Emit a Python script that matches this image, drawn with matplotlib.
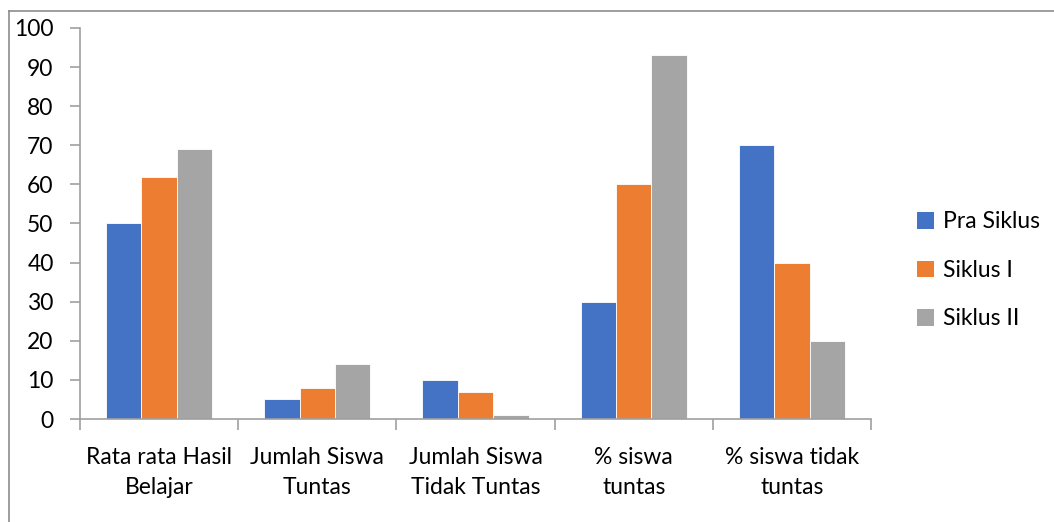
import matplotlib.pyplot as plt
import numpy as np
from matplotlib.patches import Patch

# categories and the three cycles
categories = ["Rata rata Hasil\nBelajar", "Jumlah Siswa\nTuntas",
              "Jumlah Siswa\nTidak Tuntas", "% siswa\ntuntas",
              "% siswa tidak\ntuntas"]
series_names = ["Pra Siklus", "Siklus I", "Siklus II"]
pra_siklus = [50, 5, 10, 30, 70]
siklus_1 = [62, 8, 7, 60, 40]
siklus_2 = [69, 14, 1, 93, 20]
colors = ["#4472C4", "#ED7D31", "#A5A5A5"]

plt.rcParams['font.family'] = ['Lato', 'DejaVu Sans']

fig = plt.figure(figsize=(10.54, 5.22), dpi=100)
ax = fig.add_axes([0.0759, 0.1973, 0.7505, 0.7491])

x = np.arange(len(categories))
bar_w = 0.224
for i, (vals, col) in enumerate(zip([pra_siklus, siklus_1, siklus_2], colors)):
    ax.bar(x + (i - 1) * bar_w, vals, bar_w, color=col,
           edgecolor="white", linewidth=0.6, zorder=2)

ax.set_xlim(-0.5, len(categories) - 0.5)
ax.set_ylim(0, 100)
ax.set_yticks(range(0, 101, 10))
ax.set_xticks(np.arange(-0.5, len(categories), 1.0))
ax.set_xticklabels([])
ax.set_xticks(x, minor=True)
ax.set_xticklabels(categories, minor=True, fontsize=16.5, linespacing=1.55)

axis_col = "#A0A0A0"
for s in ["top", "right"]:
    ax.spines[s].set_visible(False)
for s in ["left", "bottom"]:
    ax.spines[s].set_color(axis_col)
    ax.spines[s].set_linewidth(1.2)
ax.tick_params(axis="y", colors=axis_col, labelcolor="black", labelsize=16.5,
               length=7, width=1.2, pad=12)
ax.tick_params(axis="x", which="major", colors=axis_col, length=8, width=1.2)
ax.tick_params(axis="x", which="minor", length=0, pad=20, labelcolor="black")

# outer chart frame (left and top edges)
fig.add_artist(plt.Line2D([0.0085, 0.0085], [0.0, 0.979], color="#8C8C8C",
                          lw=1.2, transform=fig.transFigure))
fig.add_artist(plt.Line2D([0.0085, 1.0], [0.979, 0.979], color="#8C8C8C",
                          lw=1.2, transform=fig.transFigure))

handles = [Patch(facecolor=c, edgecolor="none") for c in colors]
fig.legend(handles, series_names, loc="center left",
           bbox_to_anchor=(0.85, 0.482), frameon=False, fontsize=16.5,
           handlelength=0.75, handleheight=0.75, handletextpad=0.4,
           labelspacing=1.2)

fig.savefig("out.png", dpi=100)
